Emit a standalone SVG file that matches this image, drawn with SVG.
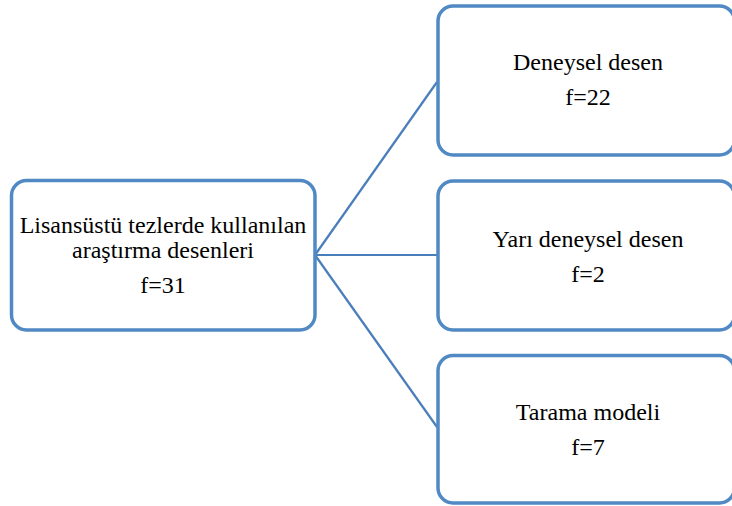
<svg xmlns="http://www.w3.org/2000/svg" width="732" height="506" viewBox="0 0 732 506">
<style>
.box{fill:#fff;stroke:#5089C4;stroke-width:3.5}
.lnk{stroke:#4A7EBB;stroke-width:2.2;fill:none}
text{font-family:"Liberation Serif","Times New Roman",serif;font-size:24px;fill:#000;text-anchor:middle}
</style>
<rect width="732" height="506" fill="#fff"/>
<g id="connectors">
<line class="lnk" x1="315" y1="255" x2="437" y2="82"/>
<line class="lnk" x1="315" y1="255" x2="437" y2="255"/>
<line class="lnk" x1="315" y1="255" x2="437" y2="427"/>
</g>
<g id="root">
<rect class="box" x="11.5" y="180.5" width="303.5" height="149.5" rx="15"/>
<text x="163" y="233">Lisansüstü tezlerde kullanılan</text>
<text x="163" y="258">araştırma desenleri</text>
<text x="163" y="293">f=31</text>
</g>
<g id="deneysel">
<rect class="box" x="438" y="6" width="296.5" height="149" rx="15"/>
<text x="588" y="70">Deneysel desen</text>
<text x="588" y="105">f=22</text>
</g>
<g id="yari">
<rect class="box" x="438" y="181" width="296.5" height="149" rx="15"/>
<text x="588" y="247">Yarı deneysel desen</text>
<text x="588" y="282">f=2</text>
</g>
<g id="tarama">
<rect class="box" x="438" y="355.5" width="296.5" height="147.5" rx="15"/>
<text x="588" y="420">Tarama modeli</text>
<text x="588" y="455">f=7</text>
</g>
</svg>
